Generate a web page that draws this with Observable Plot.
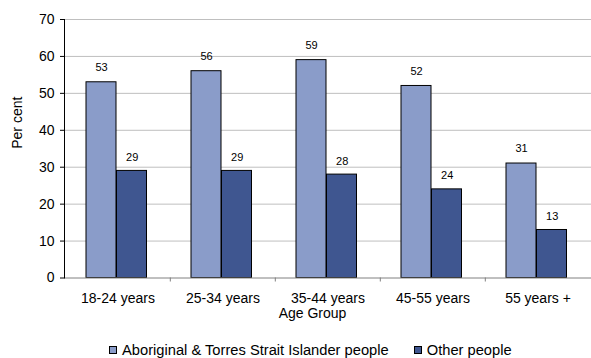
<!DOCTYPE html>
<html>
<head>
<meta charset="utf-8">
<script src="https://cdn.jsdelivr.net/npm/d3@7"></script>
<script src="https://cdn.jsdelivr.net/npm/@observablehq/plot@0.6"></script>
<style>
  body { margin: 0; background: #fff; }
  #legend { display: flex; align-items: center; height: 16px; margin: 6px 0 0 109px;
            font: 14.7px "Liberation Sans", Arial, sans-serif; color: #000; white-space: nowrap; }
  #legend .sw { display: inline-block; width: 6px; height: 6px; border: 1px solid #000; margin-right: 5px; }
  #legend .item { display: flex; align-items: center; margin-right: 25px; }
</style>
</head>
<body>
<div id="chart"></div>
<script>
const categories = ["18-24 years", "25-34 years", "35-44 years", "45-55 years", "55 years +"];
const series = ["Aboriginal & Torres Strait Islander people", "Other people"];
const aboriginal = [53, 56, 59, 52, 31];
const other = [29, 29, 28, 24, 13];
const yTicks = [0, 10, 20, 30, 40, 50, 60, 70];
const colors = ["#8A9CC9", "#3F5690"];
const xTitle = "Age Group";
const yTitle = "Per cent";

const data = categories.flatMap((c, i) => [
  {age: c, series: series[0], value: aboriginal[i]},
  {age: c, series: series[1], value: other[i]}
]);
const s0 = data.filter(d => d.series === series[0]);
const s1 = data.filter(d => d.series === series[1]);

const font = "'Liberation Sans', Arial, sans-serif";

const plot = Plot.plot({
  width: 591,
  height: 336,
  marginLeft: 64,
  marginRight: 0,
  marginTop: 19,
  marginBottom: 58.5,
  style: {fontFamily: font, fontSize: "14px", color: "#000", background: "#fff"},
  x: {domain: categories, padding: 0, axis: null},
  y: {domain: [0, 70], axis: null},
  color: {domain: series, range: colors},
  marks: [
    Plot.gridY({ticks: yTicks.slice(1), stroke: "#bfbfbf", strokeOpacity: 1}),
    Plot.barY(s0, {x: "age", y: "value", fill: "series", stroke: "#000", strokeWidth: 1, insetLeft: 21, insetRight: 54}),
    Plot.barY(s1, {x: "age", y: "value", fill: "series", stroke: "#000", strokeWidth: 1, insetLeft: 51.5, insetRight: 23.5}),
    Plot.text(s0, {x: "age", y: "value", text: d => String(d.value), dx: -16.5, dy: -15, fontSize: 11, fill: "#000"}),
    Plot.text(s1, {x: "age", y: "value", text: d => String(d.value), dx: 14.2, dy: -13.5, fontSize: 11, fill: "#000"}),
    Plot.ruleY([0], {stroke: "#808080"}),
    Plot.frame({anchor: "left", stroke: "#000"}),
    Plot.axisY({ticks: yTicks, tickSize: 4, tickPadding: 6, fontSize: 14, stroke: "#000", label: null}),
    Plot.axisX({tickSize: 0, tickPadding: 15, fontSize: 14, label: null}),
    Plot.axisX(categories.slice(1), {tickSize: 4, dx: -52.7, tickFormat: () => "", stroke: "#808080", label: null}),
    Plot.text([xTitle], {frameAnchor: "bottom", dx: -15.5, dy: 40, fontSize: 14, fill: "#000"}),
    Plot.text([yTitle], {frameAnchor: "left", dx: -47, rotate: -90, fontSize: 14, fill: "#000"})
  ]
});

const chart = document.getElementById("chart");
chart.appendChild(plot);

const colorScale = plot.scale("color");
const legend = document.createElement("div");
legend.id = "legend";
colorScale.domain.forEach((name, i) => {
  const item = document.createElement("span");
  item.className = "item";
  const sw = document.createElement("span");
  sw.className = "sw";
  sw.style.background = colorScale.range[i];
  item.appendChild(sw);
  item.appendChild(document.createTextNode(name));
  legend.appendChild(item);
});
chart.appendChild(legend);
</script>
</body>
</html>
